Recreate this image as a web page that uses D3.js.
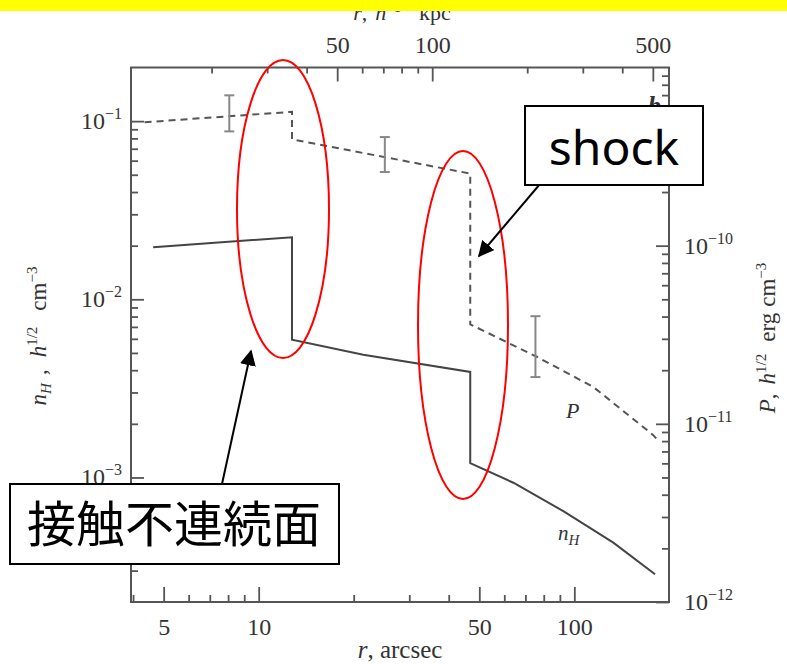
<!DOCTYPE html>
<html>
  <head>
	<meta charset="utf-8">
	<script src="https://d3js.org/d3.v7.min.js"></script>
	<style>
	  body { margin: 0; background: #fff; }
	  .tk text { font-family: "Liberation Serif", serif; font-size: 24px; fill: #333; }
	  .tk line { stroke: #555; stroke-width: 1.8; }
	</style>
  </head>

<body>
	<div id="chart"></div>
  <script>
	// density n_H (left axis) vs r in arcsec
	var nhR   = [4.63, 12.75, 12.75, 21.45, 46.8, 46.8, 64.1, 92.3, 132.9, 180.2];
	var nhVal = [0.0196, 0.0223, 0.00593, 0.00489, 0.00391, 0.001205, 9.34e-4, 6.47e-4, 4.31e-4, 2.86e-4];

	// pressure P (right axis)
	var pR   = [4.35, 12.75, 12.75, 46.8, 46.8, 76.0, 114.9, 177.9, 186];
	var pVal = [4.93e-10, 5.64e-10, 3.95e-10, 2.54e-10, 3.62e-11, 2.38e-11, 1.61e-11, 8.64e-12, 7.9e-12];

	// measured pressure error bars
	var errR  = [8.07, 25.1, 75.3];
	var errLo = [4.38e-10, 2.59e-10, 1.83e-11];
	var errHi = [6.98e-10, 4.07e-10, 4.02e-11];

	// tick values
	var botMajor = [5, 10, 50, 100];
	var botMinor = [4, 6, 7, 8, 9, 20, 30, 40, 60, 70, 80, 90];
	var topMajor = [50, 100, 500];
	var topMinor = [20, 30, 40, 60, 70, 80, 90, 200, 300, 400];
	var leftMajor = [-3, -2, -1];
	var rightMajor = [-12, -11, -10];
	var kpcPerArcsec = 2.82;

	var W = 787, H = 664;
	var L = 131, R = 669, T = 67.5, B = 602;

	var svg = d3.select("#chart").append("svg")
		.attr("width", W).attr("height", H);

	var x = d3.scaleLog().domain([3.94, 199.5]).range([L, R]);
	var xTop = d3.scaleLog().domain([3.94 * kpcPerArcsec, 199.5 * kpcPerArcsec]).range([L, R]);
	var yN = d3.scaleLog().domain([2e-4, 0.2]).range([B, T]);
	var yP = d3.scaleLog().domain([1e-12, 1e-9]).range([B, T]);

	function minors(lo, hi) {
	  var out = [];
	  for (var e = -15; e < 2; e++)
		for (var k = 2; k <= 9; k++) {
		  var v = k * Math.pow(10, e);
		  if (v > lo * 1.0001 && v < hi * 0.9999) out.push(v);
		}
	  return out;
	}

	// ticks
	svg.append("g").attr("class", "tk").attr("transform", "translate(0," + B + ")")
	  .call(d3.axisBottom(x).tickValues(botMajor).tickSize(-15).tickPadding(16).tickFormat(d3.format("d")));
	svg.append("g").attr("class", "tk").attr("transform", "translate(0," + B + ")")
	  .call(d3.axisBottom(x).tickValues(botMinor).tickSize(-7).tickFormat(""));
	svg.append("g").attr("class", "tk").attr("transform", "translate(0," + T + ")")
	  .call(d3.axisTop(xTop).tickValues(topMajor).tickSize(-14).tickPadding(15).tickFormat(d3.format("d")));
	svg.append("g").attr("class", "tk").attr("transform", "translate(0," + T + ")")
	  .call(d3.axisTop(xTop).tickValues(topMinor).tickSize(-6).tickFormat(""));

	svg.append("g").attr("class", "tk").attr("transform", "translate(" + L + ",0)")
	  .call(d3.axisLeft(yN).tickValues(leftMajor.map(function(e) { return Math.pow(10, e); })).tickSize(-13).tickFormat(""));
	svg.append("g").attr("class", "tk").attr("transform", "translate(" + L + ",0)")
	  .call(d3.axisLeft(yN).tickValues(minors(2e-4, 0.2)).tickSize(-7).tickFormat(""));
	svg.append("g").attr("class", "tk").attr("transform", "translate(" + R + ",0)")
	  .call(d3.axisRight(yP).tickValues(rightMajor.map(function(e) { return Math.pow(10, e); })).tickSize(-13).tickFormat(""));
	svg.append("g").attr("class", "tk").attr("transform", "translate(" + R + ",0)")
	  .call(d3.axisRight(yP).tickValues(minors(1e-12, 1e-9)).tickSize(-7).tickFormat(""));
	svg.selectAll(".tk .domain").remove();

	// frame
	svg.append("rect").attr("x", L).attr("y", T).attr("width", R - L).attr("height", B - T)
	  .attr("fill", "none").attr("stroke", "#555").attr("stroke-width", 2);

	// power-of-ten labels
	function powLabel(g, xp, yp, e, anchor) {
	  var t = g.append("text").attr("x", xp).attr("y", yp + 8).attr("text-anchor", anchor)
		.attr("font-family", "Liberation Serif, serif").attr("font-size", 24).attr("fill", "#333");
	  t.append("tspan").text("10");
	  t.append("tspan").attr("dy", -10).attr("font-size", 16).text("\u2212" + (-e));
	}
	leftMajor.forEach(function(e) { powLabel(svg, 122, yN(Math.pow(10, e)), e, "end"); });
	rightMajor.forEach(function(e) { powLabel(svg, 684, yP(Math.pow(10, e)), e, "start"); });

	// axis titles
	var serif = "Liberation Serif, serif";
	svg.append("text").attr("x", 400).attr("y", 658).attr("text-anchor", "middle")
	  .attr("font-family", serif).attr("font-size", 25).attr("fill", "#333")
	  .html('<tspan font-style="italic">r</tspan>, arcsec');
	svg.append("text").attr("x", 402).attr("y", 20).attr("text-anchor", "middle")
	  .attr("font-family", serif).attr("font-size", 22).attr("fill", "#333")
	  .html('<tspan font-style="italic">r</tspan>,<tspan dx="8" font-style="italic">h</tspan><tspan dy="-8" font-size="14">\u22121</tspan><tspan dy="8" dx="18">kpc</tspan>');
	svg.append("text").attr("transform", "translate(46,336) rotate(-90)").attr("text-anchor", "middle")
	  .attr("font-family", serif).attr("font-size", 23).attr("fill", "#333")
	  .html('<tspan font-style="italic">n</tspan><tspan font-style="italic" font-size="15" dy="5">H</tspan><tspan dy="-5" dx="8">,</tspan><tspan dx="12" font-style="italic">h</tspan><tspan dy="-9" font-size="15">1/2</tspan><tspan dy="9" dx="16">cm</tspan><tspan dy="-9" font-size="15">\u22123</tspan>');
	svg.append("text").attr("transform", "translate(775,338) rotate(-90)").attr("text-anchor", "middle")
	  .attr("font-family", serif).attr("font-size", 23).attr("fill", "#333")
	  .html('<tspan font-style="italic">P</tspan>,<tspan dx="9" font-style="italic">h</tspan><tspan dy="-9" font-size="15">1/2</tspan><tspan dy="9" dx="12">erg</tspan><tspan dx="6">cm</tspan><tspan dy="-9" font-size="15">\u22123</tspan>');

	// curves
	var nhLine = d3.line().x(function(d) { return x(d[0]); }).y(function(d) { return yN(d[1]); });
	var pLine = d3.line().x(function(d) { return x(d[0]); }).y(function(d) { return yP(d[1]); });
	svg.append("path").datum(d3.zip(nhR, nhVal)).attr("d", nhLine)
	  .attr("fill", "none").attr("stroke", "#444").attr("stroke-width", 2);
	svg.append("path").datum(d3.zip(pR, pVal)).attr("d", pLine)
	  .attr("fill", "none").attr("stroke", "#555").attr("stroke-width", 2).attr("stroke-dasharray", "7,5");

	// error bars
	var eb = svg.append("g").attr("stroke", "#888").attr("stroke-width", 2);
	errR.forEach(function(r, i) {
	  var xc = x(r);
	  eb.append("line").attr("x1", xc).attr("x2", xc).attr("y1", yP(errLo[i])).attr("y2", yP(errHi[i]));
	  eb.append("line").attr("x1", xc - 5).attr("x2", xc + 5).attr("y1", yP(errLo[i])).attr("y2", yP(errLo[i]));
	  eb.append("line").attr("x1", xc - 5).attr("x2", xc + 5).attr("y1", yP(errHi[i])).attr("y2", yP(errHi[i]));
	});

	// curve labels
	svg.append("text").attr("x", 566).attr("y", 418).attr("font-family", serif).attr("font-size", 22)
	  .attr("font-style", "italic").attr("fill", "#333").text("P");
	svg.append("text").attr("x", 558).attr("y", 540).attr("font-family", serif).attr("font-size", 21)
	  .attr("font-style", "italic").attr("fill", "#333")
	  .html('n<tspan dy="5" font-size="15">H</tspan>');
	svg.append("text").attr("x", 648).attr("y", 114).attr("font-family", serif).attr("font-size", 26)
	  .attr("font-style", "italic").attr("font-weight", "bold").attr("fill", "#333").text("b");

	// annotations
	svg.append("defs").append("marker").attr("id", "ah")
	  .attr("viewBox", "0 0 10 10").attr("refX", 9).attr("refY", 5)
	  .attr("markerWidth", 8).attr("markerHeight", 8).attr("markerUnits", "strokeWidth")
	  .attr("orient", "auto")
	  .append("path").attr("d", "M0,0 L10,5 L0,10 z").attr("fill", "#000");

	svg.append("ellipse").attr("cx", 283).attr("cy", 209).attr("rx", 46).attr("ry", 149)
	  .attr("fill", "none").attr("stroke", "#f00").attr("stroke-width", 2);
	svg.append("ellipse").attr("cx", 463).attr("cy", 325).attr("rx", 45).attr("ry", 174)
	  .attr("fill", "none").attr("stroke", "#f00").attr("stroke-width", 2);

	svg.append("line").attr("x1", 540).attr("y1", 184).attr("x2", 479).attr("y2", 256)
	  .attr("stroke", "#000").attr("stroke-width", 2).attr("marker-end", "url(#ah)");
	svg.append("line").attr("x1", 222).attr("y1", 484).attr("x2", 251).attr("y2", 351)
	  .attr("stroke", "#000").attr("stroke-width", 2).attr("marker-end", "url(#ah)");

	svg.append("rect").attr("x", 525).attr("y", 106).attr("width", 178).attr("height", 79)
	  .attr("fill", "#fff").attr("stroke", "#000").attr("stroke-width", 2);
	svg.append("text").attr("x", 614).attr("y", 165).attr("text-anchor", "middle")
	  .attr("font-family", "Noto Sans, sans-serif").attr("font-size", 48).attr("fill", "#000").text("shock");

	svg.append("rect").attr("x", 10).attr("y", 484).attr("width", 329).attr("height", 80)
	  .attr("fill", "#fff").attr("stroke", "#000").attr("stroke-width", 2);
	svg.append("text").attr("x", 174).attr("y", 542).attr("text-anchor", "middle")
	  .attr("font-family", "Noto Sans CJK JP, sans-serif").attr("font-size", 49).attr("fill", "#000").text("接触不連続面");

	// yellow strip along the top edge
	svg.append("rect").attr("x", 0).attr("y", 0).attr("width", W).attr("height", 11).attr("fill", "#ffff00");
  </script>
</body>
</html>
